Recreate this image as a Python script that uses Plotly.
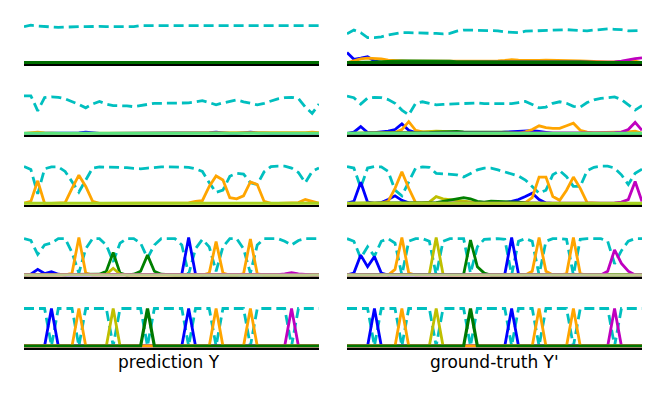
import plotly.graph_objects as go

# time steps per utterance
N_STEPS = 44
STEPS = list(range(N_STEPS))

COLORS = {"b": "#0000ff", "orange": "#ffa500", "y": "#bfbf00", "g": "#008000", "m": "#bf00bf"}
BLANK_COLOR = "#00bfbf"
ROW_BASE_COLORS = ["#006e00", "#58e47c", "#a5d21e", "#bdc98d", "#007800"]

# blank probability per panel (prediction Y / ground-truth Y')
pred1_blank = [.96, 1.0, .98, .96, .94, .94, .95, .96, .96, .96, .97, .97, .96, .96, .96, .96, .96, .99, .99, .99, .99, .99,
               .98, .98, .99, .99, .99, .99, .99, .99, .99, .99, .99, .99, .99, .99, .99, .99, .99, .99, .99, .99, .99, .99]
true1_blank = [.77, .87, .8, .67, .67, .69, .74, .78, .8, .8, .8, .8, .8, .78, .77, .78, .84, .87, .87, .87, .87, .87,
               .85, .82, .8, .8, .84, .85, .85, .85, .86, .87, .88, .87, .85, .85, .87, .88, .9, .89, .88, .85, .85, .86]
pred2_blank = [1.0, 1.0, .6, .95, .97, .96, .92, .85, .77, .68, .78, .85, .78, .74, .74, .73, .71, .74, .78, .8, .8, .8,
               .8, .8, .81, .84, .87, .82, .76, .81, .86, .89, .84, .79, .76, .8, .86, .92, .95, .96, .93, .7, .53, .78]
true2_blank = [.99, .95, .78, .94, .96, .95, .9, .8, .62, .49, .8, .84, .8, .76, .77, .78, .77, .79, .8, .81, .79, .79,
               .79, .79, .79, .82, .85, .77, .68, .7, .8, .84, .8, .72, .7, .82, .89, .93, .95, .97, .9, .76, .62, .74]
pred3_blank = [.98, .9, .25, .92, .97, .97, .85, .58, .3, .62, .94, .97, .97, .96, .96, .95, .93, .92, .94, .96, .97, .97,
               .96, .95, .96, .92, .85, .55, .29, .35, .72, .8, .78, .55, .5, .84, .98, .99, .99, .94, .82, .55, .85, .94]
true3_blank = [.98, .94, .42, .94, .98, .97, .85, .35, .2, .57, .94, .97, .96, .8, .78, .78, .76, .7, .8, .89, .94, .94,
               .89, .84, .78, .73, .62, .45, .27, .35, .76, .87, .71, .45, .45, .87, .96, .99, .99, .94, .76, .5, .8, .91]
pred4_blank = [.97, .92, .55, .8, .85, .97, .97, .6, .05, .7, .97, .97, .8, .35, .85, .97, .97, .85, .45, .8, .97, .97,
               .97, .8, .02, .7, .95, .75, .1, .75, .97, .97, .7, .05, .8, .97, .97, .97, .9, .8, .92, .97, .97, .97]
true4_blank = [.97, .9, .45, .75, .5, .9, .97, .85, 0, .9, .97, .97, .9, 0, .9, .97, .97, .97, .05, .75, .95, .97,
               .97, .95, 0, .9, .97, .9, 0, .9, .97, .97, .95, 0, .95, .97, .97, .97, .9, .3, .65, .9, .97, .97]
pred5_blank = [1, 1, 1, 1, 0, 1, 1, 1, 0, 1, 1, 1, 1, 0, 1, 1, 1, 1, 0, 1, 1, 1,
               1, 1, 0, 1, 1, 1, 0, 1, 1, 1, 1, 0, 1, 1, 1, 1, 1, 0, 1, 1, 1, 1]
true5_blank = [1, 1, 1, 1, 0, 1, 1, 1, 0, 1, 1, 1, 1, 0, 1, 1, 1, 1, 0, 1, 1, 1,
               1, 1, 0, 1, 1, 1, 0, 1, 1, 1, 1, 0, 1, 1, 1, 1, 1, 0, 1, 1, 1, 1]

# label posteriors: colour -> {first step: values}
pred1_labels = []
true1_labels = [
    ("b", {0: [.27, .09, .12, .16, .05, .01]}),
    ("orange", {1: [.05, .1, .12, .12, .1, .07, .05, .05, .04, .04, .03, .03, .03, .03, .03, .04, .04, .04, .04, .04, .04,
                    .05, .06, .08, .07, .06, .06, .06, .07, .07, .06, .07, .06, .05, .04, .03, .02, .02, .02, .02, .03, .04]}),
    ("g", {4: [.02, .03, .04, .05, .05, .05, .05, .05, .06, .06, .05, .04, .03, .03, .03, .03, .03, .03, .04, .05, .04,
               .04, .03, .03, .03, .03, .03, .03, .03, .03, .03, .02]}),
    ("m", {7: [.01, .01, .02, .02, .02, .02, .01, .01], 38: [.01, .02, .04, .08, .11, .13]}),
]
pred2_labels = [
    ("b", {8: [.01, .03, .01], 27: [.02, .03, .01], 32: [.02, .03, .01]}),
    ("orange", {1: [.02, .03, .01], 17: [.01, .01, .01], 41: [.02, .03, .02]}),
]
true2_labels = [
    ("b", {1: [.03, .18, .02, .02, .03, .06, .1, .25, .08, .02], 22: [.02, .03, .04, .05, .06, .07, .05, .02]}),
    ("orange", {7: [.02, .1, .31, .08, .04, .03, .04, .03],
                26: [.04, .1, .2, .15, .13, .13, .2, .27, .08, .03, .02, .02, .02, .02, .02, .04, .06]}),
    ("y", {10: [.02, .04, .05, .06, .05, .04, .03, .02]}),
    ("g", {12: [.02, .03, .04, .04, .05, .04, .04, .05, .04, .03, .03, .03, .02]}),
    ("m", {36: [.01, .02, .02, .02, .03, .1, .29, .08]}),
]
pred3_labels = [
    ("orange", {1: [.05, .6, 0], 6: [.02, .4, .75, .45, .05],
                24: [.01, .05, .07, .45, .73, .62, .15, .12, .2, .57, .5, .05], 40: [.02, .1, .04]}),
]
true3_labels = [
    ("b", {1: [.05, .56, .03], 5: [.02, .1, .2, .08, .01], 23: [.02, .05, .1, .18, .27, .1, .01]}),
    ("orange", {5: [.01, .05, .4, .84, .4, .02], 26: [.02, .15, .7, .7, .18, .08, .35, .7, .4, .02]}),
    ("y", {11: [.01, .03, .18, .12, .1, .06, .05, .02]}),
    ("g", {13: [.02, .05, .08, .1, .15, .12, .05, .03, .06, .05, .05, .04, .03, .01]}),
    ("m", {39: [.01, .03, .1, .58, .05]}),
]
pred4_labels = [
    ("b", {1: [.02, .15, .04, .09, .02], 23: [.02, 1.0, .02]}),
    ("orange", {7: [.05, 1.0, .05], 27: [.05, .89, .05], 32: [.03, .96, .03]}),
    ("g", {11: [.02, .1, .6, .05], 16: [.02, .1, .53, .1, .02]}),
    ("y", {12: [.02, .18, .02]}),
    ("m", {37: [.01, .03, .06, .03, .01]}),
]
true4_labels = [
    ("b", {1: [.05, .53, .22, .49, .05], 23: [.02, 1.0, .02]}),
    ("orange", {7: [.15, 1.0, .05], 27: [.1, 1.0, .1], 32: [.03, 1.0, .03]}),
    ("y", {12: [.02, 1.0, .02]}),
    ("g", {17: [.02, .93, .22, .05]}),
    ("m", {38: [.1, .67, .31, .1]}),
]
pred5_labels = [
    ("b", {3: [0, 1.0, 0], 23: [0, 1.0, 0]}),
    ("y", {12: [0, 1.0, 0]}),
    ("m", {38: [0, 1.0, 0]}),
    ("orange", {7: [0, 1.0, 0], 27: [0, 1.0, 0], 32: [0, 1.0, 0]}),
]
true5_labels = [
    ("b", {3: [0, 1.0, 0], 23: [0, 1.0, 0]}),
    ("y", {12: [0, 1.0, 0]}),
    ("m", {38: [0, 1.0, 0]}),
    ("orange", {7: [0, 1.0, 0], 27: [0, 1.0, 0], 32: [0, 1.0, 0]}),
]
# last label drawn per row (covers the zero level)
pred_last = [{}, {}, {}, {}, {17: [0, 1.0, 0]}]
true_last = [{}, {}, {}, {}, {17: [0, 1.0, 0]}]

COLUMN_TITLES = ["prediction Y", "ground-truth Y'"]


def expand(segments):
    vals = [0.0] * N_STEPS
    for start, seg in segments.items():
        for k, v in enumerate(seg):
            if start + k < N_STEPS:
                vals[start + k] = v
    return vals


panels = [
    [(pred1_blank, pred1_labels), (true1_blank, true1_labels)],
    [(pred2_blank, pred2_labels), (true2_blank, true2_labels)],
    [(pred3_blank, pred3_labels), (true3_blank, true3_labels)],
    [(pred4_blank, pred4_labels), (true4_blank, true4_labels)],
    [(pred5_blank, pred5_labels), (true5_blank, true5_labels)],
]
last_labels = [pred_last, true_last]

W, H = 664, 395
OFF = 8  # page body margin
zero_px = [62.7 - OFF, 133.3 - OFF, 203.3 - OFF, 275.0 - OFF, 346.0 - OFF]
px_per_unit = 37.5
y_lo, y_hi = -0.04, 1.12
col_px = [(24 - OFF, 319 - OFF), (347 - OFF, 642 - OFF)]

fig = go.Figure()
layout = {}
n = 0
for r in range(5):
    for c in range(2):
        n += 1
        xa = "x" if n == 1 else f"x{n}"
        ya = "y" if n == 1 else f"y{n}"
        blank, labels = panels[r][c]
        fig.add_trace(go.Scatter(x=STEPS, y=blank, xaxis=xa, yaxis=ya, mode="lines",
                                 line=dict(color=BLANK_COLOR, width=2.8, dash="10px,5px"),
                                 showlegend=False, hoverinfo="skip"))
        for col, segs in labels:
            fig.add_trace(go.Scatter(x=STEPS, y=expand(segs), xaxis=xa, yaxis=ya, mode="lines",
                                     line=dict(color=COLORS[col], width=2.8),
                                     showlegend=False, hoverinfo="skip"))
        fig.add_trace(go.Scatter(x=STEPS, y=expand(last_labels[c][r]), xaxis=xa, yaxis=ya, mode="lines",
                                 line=dict(color=ROW_BASE_COLORS[r], width=3.2),
                                 showlegend=False, hoverinfo="skip", cliponaxis=False))
        bot = zero_px[r] - y_lo * px_per_unit
        top = zero_px[r] - y_hi * px_per_unit
        suffix = "" if n == 1 else str(n)
        layout["xaxis" + suffix] = dict(domain=[col_px[c][0] / W, col_px[c][1] / W], range=[0, N_STEPS - 1],
                                        anchor=ya, showgrid=False, zeroline=False, showticklabels=False,
                                        showline=True, linecolor="black", linewidth=2, ticks="")
        layout["yaxis" + suffix] = dict(domain=[1 - bot / H, 1 - top / H], range=[y_lo, y_hi], anchor=xa,
                                        showgrid=False, zeroline=False, showticklabels=False, showline=False)

for c, title in enumerate(COLUMN_TITLES):
    fig.add_annotation(text=title, xref="paper", yref="paper",
                       x=(sum(col_px[c]) / 2 - (3 if c == 0 else 0)) / W, y=1 - (362 - OFF) / H,
                       showarrow=False, xanchor="center", yanchor="middle",
                       font=dict(family="DejaVu Sans", size=17, color="black"))

fig.update_layout(**layout)
fig.update_layout(width=W, height=H, margin=dict(l=0, r=0, t=0, b=0),
                  plot_bgcolor="white", paper_bgcolor="white", showlegend=False)

fig.write_html("out.html")
